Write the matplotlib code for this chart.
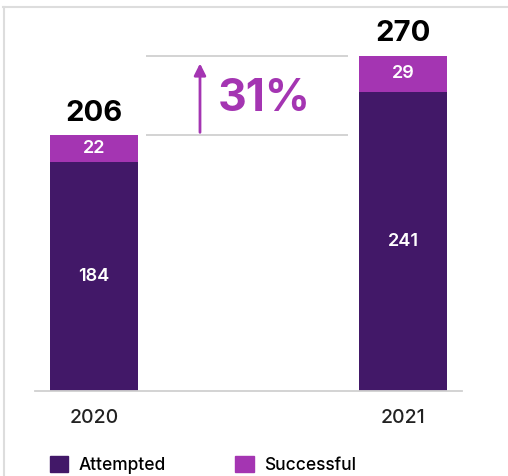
import matplotlib.pyplot as plt
from matplotlib.lines import Line2D
from matplotlib.patches import Patch

plt.rcParams['font.family'] = ['Inter', 'DejaVu Sans']

# data
years = ['2020', '2021']
attempted = [184, 241]
successful = [22, 29]
totals = [a + s for a, s in zip(attempted, successful)]
growth_label = '31%'

c_att = '#421868'
c_suc = '#a435b2'

fig = plt.figure(figsize=(5.08, 4.76), dpi=100)
ax = fig.add_axes([35/508, 1 - 391/476, 427/508, 391/476])

x = [0, 1]
w = 0.285
ax.bar(x, attempted, width=w, color=c_att)
ax.bar(x, successful, width=w, bottom=attempted, color=c_suc)

for i in range(len(x)):
    ax.text(x[i], attempted[i] / 2, str(attempted[i]), ha='center', va='center',
            color='white', fontsize=13, fontweight='semibold')
    ax.text(x[i], attempted[i] + successful[i] / 2, str(successful[i]), ha='center',
            va='center', color='white', fontsize=13, fontweight='semibold')
    ax.annotate(str(totals[i]), (x[i], totals[i]), xytext=(0, 6), textcoords='offset points',
                ha='center', va='bottom', fontsize=21, fontweight='bold', color='black')

# growth annotation
ax.hlines(totals, 0.168, 0.822, color='#d0d0d0', linewidth=1.3)
ax.annotate('', xy=(0.343, totals[1] - 4), xytext=(0.343, totals[0]),
            arrowprops=dict(arrowstyle='-|>,head_width=0.35,head_length=0.7',
                            color=c_suc, lw=2))
ax.text(0.401, (totals[0] + totals[1]) / 2 - 3, growth_label, ha='left', va='center',
        fontsize=32, fontweight='bold', color=c_suc)

ax.set_xlim(-0.191, 1.191)
ax.set_ylim(0, 314.8)
ax.set_xticks(x)
ax.set_xticklabels(years, fontsize=14, fontweight='medium', color='#222222')
ax.tick_params(length=0, pad=13)
ax.set_yticks([])
for s in ['top', 'left', 'right']:
    ax.spines[s].set_visible(False)
ax.spines['bottom'].set_color('#d0d0d0')
ax.spines['bottom'].set_linewidth(1.3)

# frame lines
fig.add_artist(Line2D([3/508, 1], [1 - 7/476, 1 - 7/476], color='#dddddd', lw=1.5))
fig.add_artist(Line2D([3.5/508, 3.5/508], [0, 1 - 7/476], color='#dddddd', lw=1.5))

handles = [Patch(color=c_att), Patch(color=c_suc)]
fig.legend(handles, ['Attempted', 'Successful'], loc='lower left',
           bbox_to_anchor=(50/508, 2/476), ncol=2, frameon=False,
           prop={'size': 12.5, 'weight': 'medium'},
           handlelength=1.05, handleheight=1.05, handletextpad=0.6,
           columnspacing=4.0, borderpad=0, borderaxespad=0)

fig.savefig('out.png', dpi=100)
